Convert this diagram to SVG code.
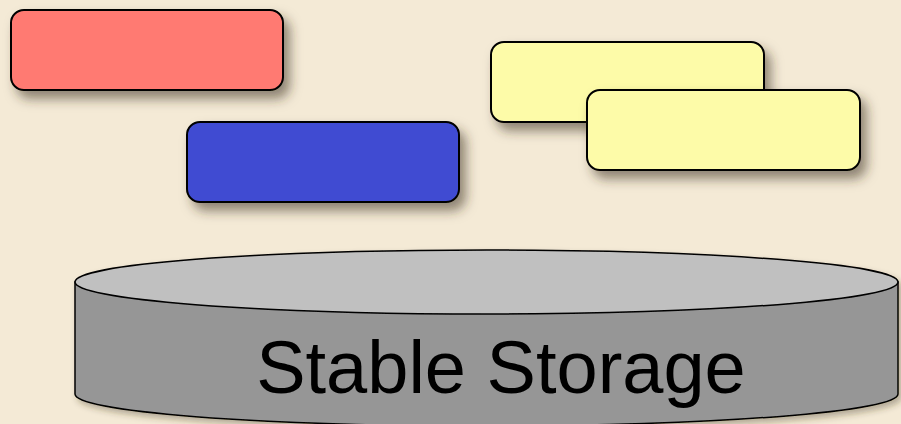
<svg xmlns="http://www.w3.org/2000/svg" width="901" height="424" viewBox="0 0 901 424">
<defs>
<filter id="sh" x="-20%" y="-40%" width="150%" height="210%">
<feDropShadow dx="6" dy="8" stdDeviation="6" flood-color="#3a3320" flood-opacity="0.55"/>
</filter>
<filter id="sh2" x="-10%" y="-20%" width="120%" height="150%">
<feDropShadow dx="3" dy="4" stdDeviation="3" flood-color="#3a3320" flood-opacity="0.35"/>
</filter>
</defs>
<style>
.box{stroke:#000;stroke-width:2}
.cyl{stroke:#000;stroke-width:1.5}
.lbl{font-family:"Liberation Sans",Arial,sans-serif;font-size:74px;fill:#000}
</style>
<rect width="901" height="424" fill="#f4ead6"/>
<g id="red"><rect class="box" x="11" y="10" width="272" height="80" rx="13" fill="#ff7a72" filter="url(#sh)"/></g>
<g id="blue"><rect class="box" x="187" y="122" width="272" height="80" rx="13" fill="#404bd2" filter="url(#sh)"/></g>
<g id="yellow1"><rect class="box" x="491" y="42" width="273" height="80" rx="13" fill="#fdfba8" filter="url(#sh)"/></g>
<g id="yellow2"><rect class="box" x="587" y="90" width="273" height="80" rx="13" fill="#fdfba8" filter="url(#sh)"/></g>
<g id="storage" filter="url(#sh2)">
<path class="cyl" d="M75,282 L75,394 A411.5,32 0 0 0 898,394 L898,282 Z" fill="#969696"/>
<ellipse class="cyl" cx="486.5" cy="282" rx="411.5" ry="32" fill="#c0c0c0"/>
<text class="lbl" x="501" y="393" text-anchor="middle">Stable Storage</text>
</g>
<g id="connectors"></g>
</svg>
